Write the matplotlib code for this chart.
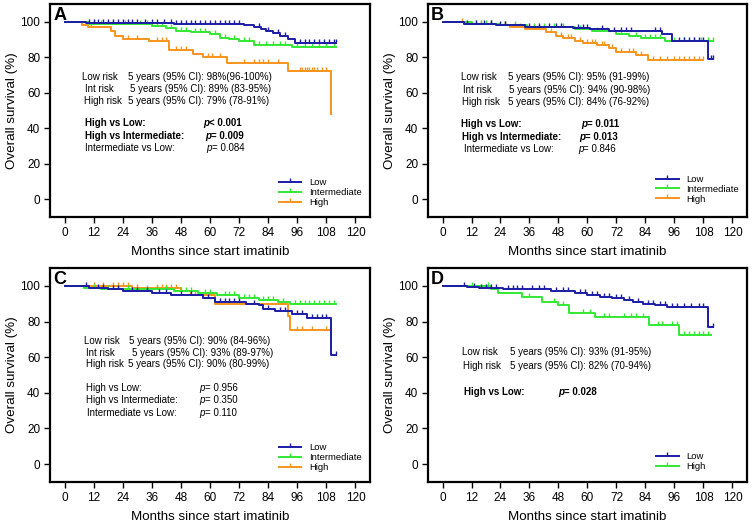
import matplotlib.pyplot as plt
from matplotlib.lines import Line2D
import numpy as np

plt.rcParams['font.family'] = ['Liberation Sans', 'DejaVu Sans']

BLUE = "#1c1ca6"
GREEN = "#33e833"
ORANGE = "#f7941d"

# ---- panel A ----
A_low_t = [9, 45, 74, 78, 81, 83, 86, 89, 92, 95]
A_low_s = [99.3, 98.8, 98, 97, 96, 95, 93.5, 92, 90, 88]
A_low_end = 112
A_low_cens = [10, 12, 14, 16, 18, 20, 22, 24, 26, 28, 30, 33, 36, 38, 41, 44, 46, 48, 50, 52,
              54, 56, 58, 60, 62, 64, 66, 68, 70, 72, 80, 84, 88, 91, 97, 99, 101, 103, 105,
              107, 109, 111, 112]
A_int_t = [10, 22, 36, 42, 46, 52, 60, 64, 68, 72, 78, 94]
A_int_s = [99, 98.5, 97.5, 96.5, 95, 94, 93, 91, 90, 89, 87, 86]
A_int_end = 112
A_int_cens = [12, 15, 18, 20, 25, 28, 31, 34, 38, 40, 44, 48, 50, 54, 56, 58, 62, 66, 70, 74,
              76, 80, 83, 86, 89, 91, 96, 99, 102, 105, 108, 111]
A_high_t = [7, 9.5, 19, 21, 24, 35, 43, 53, 57, 67, 92, 110]
A_high_s = [98, 97, 95, 92, 90, 89, 84, 82, 80, 77, 72, 48]
A_high_end = 110
A_high_cens = [11, 26, 30, 38, 40, 42, 46, 48, 50, 59, 61, 64, 74, 78, 80, 82, 84, 88, 97, 98,
               99, 100, 101, 102, 103, 104, 106, 108]

# ---- panel B ----
B_low_t = [9, 22, 34, 54, 61, 69, 91, 95, 110]
B_low_s = [99, 98, 97, 96.5, 96, 95, 93, 89, 79]
B_low_end = 112
B_low_cens = [10, 14, 17, 20, 24, 26, 36, 40, 44, 47, 49, 56, 58, 60, 66, 71, 74, 76, 78, 88,
              90, 98, 100, 102, 104, 106, 108, 111, 112]
B_int_t = [12, 24, 35, 55, 62, 72, 77, 82, 92]
B_int_s = [99, 98, 97, 96, 94.5, 93, 92, 91, 89]
B_int_end = 112
B_int_cens = [14, 16, 18, 20, 26, 30, 38, 42, 46, 50, 57, 64, 66, 68, 74, 80, 84, 86, 88, 90,
              96, 100, 104, 107, 110, 112]
B_high_t = [10, 24, 28, 34, 43, 47, 50, 55, 58, 64, 69, 72, 80, 85]
B_high_s = [99, 98, 97, 96, 94, 92, 91, 89, 88, 87, 85, 83, 81, 78.5]
B_high_end = 108
B_high_cens = [8, 16, 20, 26, 30, 32, 38, 40, 45, 49, 52, 53, 57, 60, 62, 63, 66, 67, 70, 74,
               77, 79, 82, 87, 90, 93, 96, 98, 100, 102, 104, 106, 108]

# ---- panel C ----
C_low_t = [10, 18, 24, 36, 44, 57, 62, 75, 80, 82, 87, 94, 100, 110]
C_low_s = [99, 98, 97, 96, 95, 93, 91, 90, 89, 87, 86, 84, 82, 61]
C_low_end = 112
C_low_cens = [9, 14, 16, 20, 22, 28, 30, 34, 39, 42, 48, 52, 59, 64, 66, 68, 70, 72, 78, 84,
              89, 91, 96, 98, 102, 104, 106, 108, 112]
C_int_t = [8, 15, 30, 45, 55, 63, 72, 80, 88, 93]
C_int_s = [99, 98.5, 98, 97, 96, 95, 93, 92, 91, 90]
C_int_end = 112
C_int_cens = [12, 18, 22, 26, 34, 38, 42, 48, 50, 52, 58, 60, 66, 68, 70, 74, 76, 78, 82, 84,
              86, 90, 95, 97, 99, 101, 103, 105, 107, 109, 111]
C_high_t = [28, 48, 52, 62, 92, 93]
C_high_s = [99, 97, 95, 90, 83, 75]
C_high_end = 109
C_high_cens = [12, 16, 20, 22, 24, 26, 30, 38, 40, 42, 44, 46, 54, 60, 96, 98, 102, 108]

# ---- panel D ----
D_low_t = [10, 15, 25, 35, 45, 55, 60, 65, 70, 75, 79, 83, 88, 93, 110]
D_low_s = [99.5, 99, 98.5, 98, 97, 96, 95, 94, 93, 92, 91, 90, 89, 88, 77]
D_low_end = 112
D_low_cens = [9, 13, 16, 18, 20, 22, 27, 29, 31, 33, 37, 40, 42, 47, 50, 52, 57, 59, 62, 64,
              67, 69, 72, 74, 77, 81, 85, 87, 90, 92, 95, 97, 100, 103, 106, 108, 112]
D_high_t = [20, 23, 33, 41, 48, 52.5, 63, 85.5, 98]
D_high_s = [98, 96, 94, 91, 89.5, 85, 82.5, 78, 72.5]
D_high_end = 111
D_high_cens = [12, 19, 36, 46, 50, 58, 61, 67, 69, 75, 78, 80, 83, 89, 91, 95, 97,
               100, 102, 104, 106, 108, 110]

X_TICKS = [0, 12, 24, 36, 48, 60, 72, 84, 96, 108, 120]
Y_TICKS = [0, 20, 40, 60, 80, 100]


def surv_at(t_ev, s_ev, c):
    val = 100
    for t, s in zip(t_ev, s_ev):
        if t <= c:
            val = s
    return val


def draw_curve(ax, t_ev, s_ev, end, cens, color):
    x = [0] + list(t_ev) + [end]
    y = [100] + list(s_ev) + [s_ev[-1]]
    ax.plot(x, y, drawstyle="steps-post", color=color, lw=1.4)
    cy = [surv_at(t_ev, s_ev, c) for c in cens]
    ax.plot(cens, cy, linestyle="none", marker=2, markersize=3, mew=1.0, color=color)


def set_up_axes(ax, letter):
    ax.set_xlim(-6, 126)
    ax.set_ylim(-10, 110)
    ax.set_xticks(X_TICKS)
    ax.set_yticks(Y_TICKS)
    ax.tick_params(direction="out", length=4, width=1, labelsize=8.5, pad=3)
    for sp in ax.spines.values():
        sp.set_linewidth(1.6)
    ax.set_xlabel("Months since start imatinib", fontsize=9.6, labelpad=5)
    ax.set_ylabel("Overall survival (%)", fontsize=9.6, labelpad=2)
    ax.text(0.01, 0.985, letter, transform=ax.transAxes, fontsize=13,
            fontweight="bold", va="top", ha="left")


def add_legend(ax, names, colors, y0):
    handles = [Line2D([0], [0], color=c, lw=1.4, marker=2, markersize=3, mew=1.0)
               for c in colors]
    ax.legend(handles, names, loc="lower left", bbox_to_anchor=(0.70, y0),
              frameon=False, fontsize=6.8, handlelength=2.4, handletextpad=0.8,
              labelspacing=0.1, borderpad=0, numpoints=1)


def add_text(ax, rows, fs=7):
    for x, y, s, bold in rows:
        ax.text(x, y, s, fontsize=fs, va="center", ha="left",
                fontweight="bold" if bold else "normal")


def add_pvals(ax, rows, fs=7):
    # italic p followed by the rest of the value
    for x, y, s, bold in rows:
        w = "bold" if bold else "normal"
        t = ax.text(x, y, "p", fontsize=fs, style="italic", fontweight=w,
                    va="center", ha="left")
        ax.annotate(s, xy=(1, 0), xycoords=t, fontsize=fs, fontweight=w,
                    va="bottom", ha="left")


fig = plt.figure(figsize=(7.53, 5.24), dpi=100)
axA = fig.add_axes([0.0664, 0.5859, 0.425, 0.4065])
axB = fig.add_axes([0.5684, 0.5859, 0.4236, 0.4065])
axC = fig.add_axes([0.0664, 0.0802, 0.425, 0.4083])
axD = fig.add_axes([0.5684, 0.0802, 0.4236, 0.4083])

# A
draw_curve(axA, A_high_t, A_high_s, A_high_end, A_high_cens, ORANGE)
draw_curve(axA, A_int_t, A_int_s, A_int_end, A_int_cens, GREEN)
draw_curve(axA, A_low_t, A_low_s, A_low_end, A_low_cens, BLUE)
set_up_axes(axA, "A")
add_text(axA, [
    (7.4, 69, "Low risk", False), (26, 69, "5 years (95% CI): 98%(96-100%)", False),
    (8.3, 62.3, "Int risk", False), (27, 62.3, "5 years (95% CI): 89% (83-95%)", False),
    (8.1, 55.5, "High risk", False), (26, 55.5, "5 years (95% CI): 79% (78-91%)", False),
    (8.3, 42.7, "High vs Low:", True),
    (8.3, 35.5, "High vs Intermediate:", True),
    (8.3, 28.6, "Intermediate vs Low:", False),
])
add_pvals(axA, [(57, 42.7, "< 0.001", True), (58, 35.5, "= 0.009", True),
                (58.5, 28.6, "= 0.084", False)])
add_legend(axA, ["Low", "Intermediate", "High"], [BLUE, GREEN, ORANGE], 0.025)

# B
draw_curve(axB, B_high_t, B_high_s, B_high_end, B_high_cens, ORANGE)
draw_curve(axB, B_int_t, B_int_s, B_int_end, B_int_cens, GREEN)
draw_curve(axB, B_low_t, B_low_s, B_low_end, B_low_cens, BLUE)
set_up_axes(axB, "B")
add_text(axB, [
    (7.8, 68.7, "Low risk", False), (27, 68.7, "5 years (95% CI): 95% (91-99%)", False),
    (8.5, 61.7, "Int risk", False), (27.5, 61.7, "5 years (95% CI): 94% (90-98%)", False),
    (8.1, 55, "High risk", False), (27, 55, "5 years (95% CI): 84% (76-92%)", False),
    (7.8, 42.3, "High vs Low:", True),
    (8.1, 35.2, "High vs Intermediate:", True),
    (9, 28.2, "Intermediate vs Low:", False),
])
add_pvals(axB, [(57.3, 42.3, "= 0.011", True), (56.5, 35.2, "= 0.013", True),
                (56, 28.2, "= 0.846", False)])
add_legend(axB, ["Low", "Intermediate", "High"], [BLUE, GREEN, ORANGE], 0.04)

# C
draw_curve(axC, C_high_t, C_high_s, C_high_end, C_high_cens, ORANGE)
draw_curve(axC, C_int_t, C_int_s, C_int_end, C_int_cens, GREEN)
draw_curve(axC, C_low_t, C_low_s, C_low_end, C_low_cens, BLUE)
set_up_axes(axC, "C")
add_text(axC, [
    (8.2, 68.9, "Low risk", False), (26.5, 68.9, "5 years (95% CI): 90% (84-96%)", False),
    (9, 62.6, "Int risk", False), (28, 62.6, "5 years (95% CI): 93% (89-97%)", False),
    (8.7, 56, "High risk", False), (26, 56, "5 years (95% CI): 90% (80-99%)", False),
    (9, 42.8, "High vs Low:", False),
    (9, 36.2, "High vs Intermediate:", False),
    (9.4, 28.9, "Intermediate vs Low:", False),
])
add_pvals(axC, [(55.7, 42.8, "= 0.956", False), (55.7, 36.2, "= 0.350", False),
                (55.7, 28.9, "= 0.110", False)])
add_legend(axC, ["Low", "Intermediate", "High"], [BLUE, GREEN, ORANGE], 0.025)

# D
draw_curve(axD, D_high_t, D_high_s, D_high_end, D_high_cens, GREEN)
draw_curve(axD, D_low_t, D_low_s, D_low_end, D_low_cens, BLUE)
set_up_axes(axD, "D")
add_text(axD, [
    (8.1, 62.8, "Low risk", False), (27.8, 62.8, "5 years (95% CI): 93% (91-95%)", False),
    (8.5, 55, "High risk", False), (27.8, 55, "5 years (95% CI): 82% (70-94%)", False),
    (9, 40.2, "High vs Low:", True),
])
add_pvals(axD, [(48, 40.2, "= 0.028", True)])
add_legend(axD, ["Low", "High"], [BLUE, GREEN], 0.03)

plt.savefig("out.png", dpi=100)
plt.close()
